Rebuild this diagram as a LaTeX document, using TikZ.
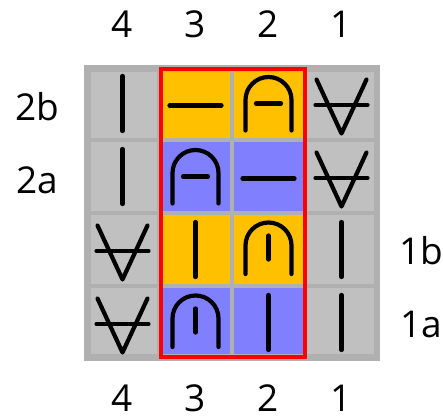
\documentclass[tikz,border=0pt]{standalone}
\usepackage{fontspec}
\setmainfont{Open Sans}
\definecolor{cellgray}{HTML}{C0C0C0}
\definecolor{gridgray}{HTML}{B0B0B0}
\definecolor{cellorange}{HTML}{FFC000}
\definecolor{cellblue}{HTML}{8080FF}
\definecolor{framered}{HTML}{FF0000}
\begin{document}
\begin{tikzpicture}[x=1pt,y=-1pt,
  cell/.style={draw=gridgray,line width=4pt,minimum width=73pt,minimum height=73pt,inner sep=0pt,outer sep=0pt},
  sym/.style={line width=4.2pt,line cap=round,line join=round,black},
  lbl/.style={font=\fontsize{37}{37}\selectfont,inner sep=0pt}]
\useasboundingbox (0,0) rectangle (443,419);
% cells: row r (1=top), column c (1=left)
\foreach \r/\c/\col in {1/1/cellgray,1/2/cellorange,1/3/cellorange,1/4/cellgray,
                        2/1/cellgray,2/2/cellblue,2/3/cellblue,2/4/cellgray,
                        3/1/cellgray,3/2/cellorange,3/3/cellorange,3/4/cellgray,
                        4/1/cellgray,4/2/cellblue,4/3/cellblue,4/4/cellgray}{
  \node[cell,fill=\col] (c\r\c) at ({49.5+73*\c},{30.5+73*\r}) {};
}
% outer frame
\draw[gridgray,line width=5pt] (88.5,69.5) rectangle (376.5,356.5);
% symbols
\tikzset{
  pics/vbar/.style={code={\draw[sym] (0,-27.5) -- (0,27.5);}},
  pics/hbar/.style={code={\draw[sym] (-26,2) -- (26,2);}},
  pics/archdash/.style={code={\draw[sym] (-23,27) -- (-23,-3.5) arc[start angle=180,end angle=360,radius=23] -- (23,27);
                              \draw[sym] (-12.5,0) -- (12.5,0);}},
  pics/archline/.style={code={\draw[sym] (-23,24.5) -- (-23,-4) arc[start angle=180,end angle=360,radius=23] -- (23,24.5);
                              \draw[sym] (0,-14) -- (0,10);}},
  pics/forall/.style={code={\draw[sym] (-25,-24) -- (0,30) -- (25,-24);
                            \draw[sym] (-26,1.5) -- (26,1.5);}}
}
\pic at (c11) {vbar};
\pic at (c12) {hbar};
\pic at (c13) {archdash};
\pic at (c14) {forall};
\pic at (c21) {vbar};
\pic at (c22) {archdash};
\pic at (c23) {hbar};
\pic at (c24) {forall};
\pic at (c31) {forall};
\pic at (c32) {vbar};
\pic at (c33) {archline};
\pic at (c34) {vbar};
\pic at (c41) {forall};
\pic at (c42) {archline};
\pic at (c43) {vbar};
\pic at (c44) {vbar};
% red frame
\draw[framered,line width=4pt] (160.5,69) rectangle (304.7,357);
% labels
\node[lbl] (t4) at (122.5,24) {4};
\node[lbl] (t3) at (195.5,24) {3};
\node[lbl] (t2) at (268.5,24) {2};
\node[lbl] (t1) at (341.5,24) {1};
\node[lbl] (b4) at (122.5,398) {4};
\node[lbl] (b3) at (195.5,398) {3};
\node[lbl] (b2) at (268.5,398) {2};
\node[lbl] (b1) at (341.5,398) {1};
\node[lbl] (l2b) at (37.5,106.5) {2b};
\node[lbl] (l2a) at (37.5,180) {2a};
\node[lbl] (r1b) at (421.5,251) {1b};
\node[lbl] (r1a) at (421.5,324) {1a};
\end{tikzpicture}
\end{document}
